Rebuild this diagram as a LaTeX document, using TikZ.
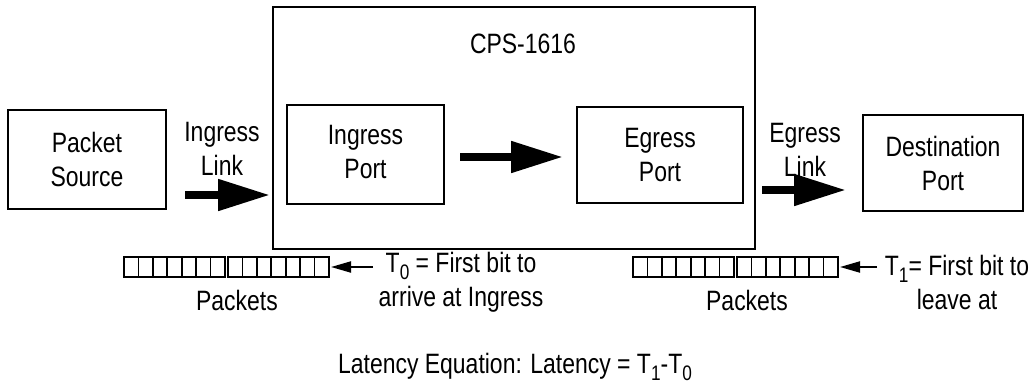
\documentclass[tikz,border=0pt]{standalone}
\usepackage{fontspec}
\setmainfont{Liberation Sans}[FakeStretch=0.82]
\usetikzlibrary{arrows.meta,positioning,calc}
\newcommand\diafont{\fontsize{28}{34}\selectfont}
\newcommand\mysub[1]{\raisebox{-7pt}{\fontsize{21}{21}\selectfont #1}}
\newcommand \mydrawqueue[3]
{
\foreach \k in {0,1}
{
\draw[line width=2pt] ({#2+\k*104},#3) rectangle ++(101,20);
\foreach \i in {1,...,6}
  \draw[line width=1.6pt] ({#2+\k*104+\i*101/7},#3) -- ++(0,20);
}
\coordinate (#1) at ({#2+205},{#3+10});
}
\tikzset{
  box/.style={draw, line width=2pt, inner sep=0pt, align=center, font=\diafont},
  txt/.style={inner sep=0pt, align=center, font=\diafont},
  fatarrow/.style={line width=8pt, -{Triangle[length=52pt,width=30pt]}},
  thinarrow/.style={line width=2pt, -{Triangle[length=20pt,width=11pt]}}
}
\begin{document}
\begin{tikzpicture}[line join=miter, x=1pt, y=-1pt]
\useasboundingbox (0,0) rectangle (1033,383);
\node[box, minimum width=158pt, minimum height=99pt]  (src)    at (87,159.5)  {Packet\\Source};
\node[box, minimum width=482pt, minimum height=242pt] (cps)    at (514,128)   {};
\node[txt, anchor=base]                               (cpsname) at (523,53)   {CPS-1616};
\node[box, minimum width=157pt, minimum height=99pt, text depth=6pt]  (inport) at (365.5,154.5) {Ingress\\Port};
\node[box, minimum width=166pt, minimum height=96pt]  (export) at (660,155)   {Egress\\Port};
\node[box, minimum width=160pt, minimum height=96pt]  (dest)   at (943,163)   {Destination\\Port};
\node[txt] (inlink)  at (222,149) {Ingress\\Link};
\node[txt] (outlink) at (805,150) {Egress\\Link};
\coordinate (inS)  at (185,195);
\coordinate (outS) at (762,190);
\draw[fatarrow] (inS) -- ([xshift=-2pt]inS -| cps.west);
\draw[fatarrow] ([xshift=15pt,yshift=-2.5pt]inport.east) -- ([xshift=-13pt,yshift=-2pt]export.west);
\draw[fatarrow] (outS) -- ([xshift=-16pt]outS -| dest.west);
\mydrawqueue{qin}{124}{257}
\mydrawqueue{qout}{633}{257}
\node[txt, anchor=base] (pktin)  at (237,310) {Packets};
\node[txt, anchor=base] (pktout) at (747,310) {Packets};
\node[txt] (tzero) at (461,282.5) {T\mysub{0} = First bit to\\arrive at Ingress};
\node[txt] (tone)  at (957,282.5) {T\mysub{1}= First bit to\\leave at};
\coordinate (tz) at (373,267);
\coordinate (to) at (877,267);
\draw[thinarrow] (tz) -- ([xshift=2pt]qin);
\draw[thinarrow] (to) -- ([xshift=2pt]qout);
\node[txt, anchor=base] (latency) at (515,373) {Latency Equation: Latency = T\mysub{1}-T\mysub{0}};
\end{tikzpicture}
\end{document}
